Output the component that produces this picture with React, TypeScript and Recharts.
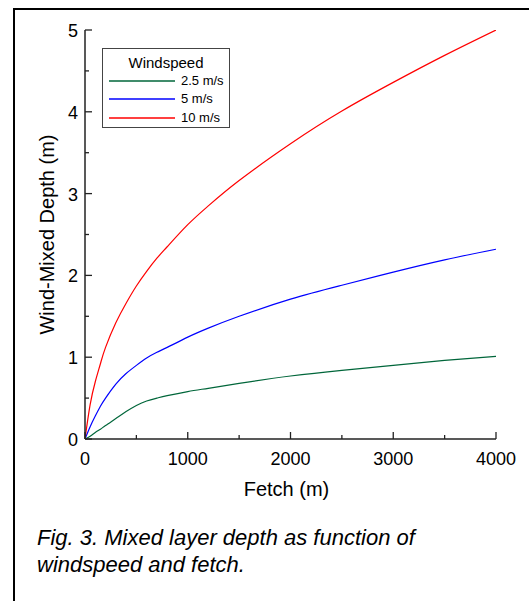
import React from 'react';
import { LineChart, Line, XAxis, YAxis } from 'recharts';

const FETCH = [0, 50, 100, 150, 200, 300, 400, 500, 600, 700, 800, 1000, 1200, 1500, 2000, 2500, 3000, 3500, 4000];
const WIND_2_5 = [0, 0.035, 0.08, 0.12, 0.165, 0.25, 0.335, 0.41, 0.465, 0.5, 0.53, 0.58, 0.62, 0.68, 0.77, 0.84, 0.9, 0.96, 1.01];
const WIND_5 = [0, 0.15, 0.28, 0.4, 0.5, 0.67, 0.8, 0.9, 0.99, 1.06, 1.12, 1.245, 1.355, 1.5, 1.71, 1.88, 2.04, 2.19, 2.32];
const WIND_10 = [0, 0.42, 0.7, 0.92, 1.12, 1.42, 1.66, 1.87, 2.05, 2.21, 2.35, 2.62, 2.85, 3.16, 3.61, 4.01, 4.36, 4.69, 5.0];

const X_TICKS = [0, 500, 1000, 1500, 2000, 2500, 3000, 3500, 4000];
const Y_TICKS = [0, 0.5, 1, 1.5, 2, 2.5, 3, 3.5, 4, 4.5, 5];

const SERIES = [
  { key: 'w25', name: '2.5 m/s', color: '#00663a', values: WIND_2_5 },
  { key: 'w5', name: '5 m/s', color: '#0000ff', values: WIND_5 },
  { key: 'w10', name: '10 m/s', color: '#ff0000', values: WIND_10 },
];

const data = FETCH.map((f, i) => {
  const row: any = { fetch: f };
  SERIES.forEach((s) => {
    row[s.key] = s.values[i];
  });
  return row;
});

const FONT = '"Liberation Sans", Arial, Helvetica, sans-serif';
const AXIS = '#222';
const MAJOR = 7;
const MINOR = 4;

const BottomTick = (props: any) => {
  const { x, y, payload } = props;
  const v = payload.value;
  const major = v % 1000 === 0;
  return (
    <g>
      <line x1={x} y1={y} x2={x} y2={y - (major ? MAJOR : MINOR)} stroke={AXIS} strokeWidth={1.3} />
      {major && (
        <text x={x} y={y + 25.5} textAnchor="middle" fontSize={18} fontFamily={FONT} fill="#000">
          {v}
        </text>
      )}
    </g>
  );
};

const TopTick = (props: any) => {
  const { x, y, payload } = props;
  const major = payload.value % 1000 === 0;
  return <line x1={x} y1={y} x2={x} y2={y + (major ? MAJOR : MINOR)} stroke={AXIS} strokeWidth={1.3} />;
};

const LeftTick = (props: any) => {
  const { x, y, payload } = props;
  const v = payload.value;
  const major = Number.isInteger(v);
  return (
    <g>
      <line x1={x} y1={y} x2={x + (major ? MAJOR : MINOR)} y2={y} stroke={AXIS} strokeWidth={1.3} />
      {major && (
        <text x={x - 7} y={y + 7} textAnchor="end" fontSize={18} fontFamily={FONT} fill="#000">
          {v}
        </text>
      )}
    </g>
  );
};

const RightTick = (props: any) => {
  const { x, y, payload } = props;
  const major = Number.isInteger(payload.value);
  return <line x1={x} y1={y} x2={x - (major ? MAJOR : MINOR)} y2={y} stroke={AXIS} strokeWidth={1.3} />;
};

const LegendBox = () => (
  <div
    style={{
      position: 'absolute',
      left: 102,
      top: 48,
      width: 128,
      height: 80,
      border: '1px solid #444',
      background: '#fff',
      fontFamily: FONT,
      boxSizing: 'border-box',
    }}
  >
    <div style={{ position: 'absolute', left: 0, right: 0, top: 5, textAlign: 'center', fontSize: 15, lineHeight: '18px' }}>
      Windspeed
    </div>
    {SERIES.map((s, i) => (
      <div key={s.key} style={{ position: 'absolute', left: 6, top: 23 + i * 18.4, height: 18, display: 'flex', alignItems: 'center' }}>
        <svg width={66} height={4} style={{ display: 'block' }}>
          <line x1={0} y1={2} x2={66} y2={2} stroke={s.color} strokeWidth={1.3} />
        </svg>
        <span style={{ marginLeft: 6, fontSize: 13, lineHeight: '18px' }}>{s.name}</span>
      </div>
    ))}
  </div>
);

export default function App() {
  return (
    <div style={{ position: 'absolute', left: 0, top: 0, width: 529, height: 601, background: '#fff', overflow: 'hidden' }}>
      <div
        style={{
          position: 'absolute',
          left: 13,
          top: 8,
          right: -10,
          bottom: -10,
          borderLeft: '2px solid #000',
          borderTop: '2px solid #000',
        }}
      />
      <div style={{ position: 'absolute', left: 0, top: 0 }}>
        <LineChart width={529} height={601} data={data} margin={{ top: 30, right: 33, left: 25, bottom: 64 }}>
          <XAxis
            dataKey="fetch"
            type="number"
            domain={[0, 4000]}
            ticks={X_TICKS}
            interval={0}
            allowDataOverflow
            height={98}
            tickLine={false}
            tickSize={0}
            tickMargin={0}
            tick={<BottomTick />}
            axisLine={{ stroke: AXIS, strokeWidth: 1.5 }}
            label={{ value: 'Fetch (m)', position: 'center', dx: -4, dy: 1, fontSize: 20, fontFamily: FONT, fill: '#000' }}
          />
          <XAxis
            xAxisId="top"
            orientation="top"
            dataKey="fetch"
            type="number"
            domain={[0, 4000]}
            ticks={X_TICKS}
            interval={0}
            allowDataOverflow
            height={0}
            tickLine={false}
            tickSize={0}
            tickMargin={0}
            tick={<TopTick />}
            axisLine={{ stroke: AXIS, strokeWidth: 1.5 }}
          />
          <YAxis
            type="number"
            domain={[0, 5]}
            ticks={Y_TICKS}
            interval={0}
            allowDataOverflow
            width={60}
            tickLine={false}
            tickSize={0}
            tickMargin={0}
            tick={<LeftTick />}
            axisLine={{ stroke: AXIS, strokeWidth: 1.5 }}
            label={{ value: 'Wind-Mixed Depth (m)', angle: -90, position: 'center', dx: -8, fontSize: 20, fontFamily: FONT, fill: '#000' }}
          />
          <YAxis
            yAxisId="right"
            orientation="right"
            type="number"
            domain={[0, 5]}
            ticks={Y_TICKS}
            interval={0}
            allowDataOverflow
            width={0}
            tickLine={false}
            tickSize={0}
            tickMargin={0}
            tick={<RightTick />}
            axisLine={{ stroke: AXIS, strokeWidth: 1.5 }}
          />
          {SERIES.map((s) => (
            <Line
              key={s.key}
              dataKey={s.key}
              name={s.name}
              type="natural"
              stroke={s.color}
              strokeWidth={1.2}
              dot={false}
              activeDot={false}
              isAnimationActive={false}
            />
          ))}
        </LineChart>
      </div>
      <LegendBox />
      <div
        style={{
          position: 'absolute',
          left: 37,
          top: 523.5,
          fontFamily: FONT,
          fontStyle: 'italic',
          fontSize: 22,
          lineHeight: '27px',
          color: '#000',
          whiteSpace: 'nowrap',
        }}
      >
        Fig. 3. Mixed layer depth as function of
        <br />
        windspeed and fetch.
      </div>
    </div>
  );
}
